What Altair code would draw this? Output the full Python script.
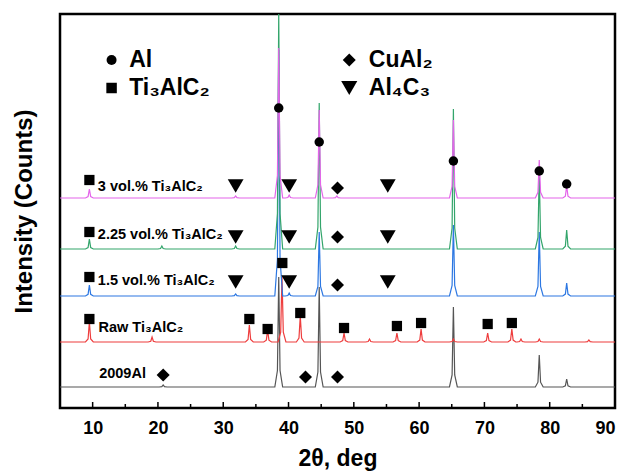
import altair as alt
import pandas as pd

# ---------------- data ----------------
X_DOMAIN = [5, 90]
Y_DOMAIN = [0, 394]
major_ticks = [10, 20, 30, 40, 50, 60, 70, 80, 90]
minor_ticks = [15, 25, 35, 45, 55, 65, 75, 85]

# drawing order: bottom trace first
samples = ["2009Al", "Raw Ti₃AlC₂", "1.5 vol.% Ti₃AlC₂", "2.25 vol.% Ti₃AlC₂", "3 vol.% Ti₃AlC₂"]
colors = ["#555555", "#ee3d3d", "#2c77e2", "#33a56b", "#e464ea"]
baselines = [21, 66, 112, 159, 210]

grey_pos = [20.8, 38.5, 44.7, 65.25, 78.4, 82.6]
grey_h = [2, 110, 100, 80, 32, 8]
red_pos = [9.5, 19.1, 34.0, 36.8, 39.0, 41.8, 48.5, 52.4, 56.6, 60.3, 65.25, 70.5, 74.2, 75.6, 78.4, 86.0]
red_h = [20, 5, 17, 12, 66, 26, 9, 3, 9, 13, 3, 9, 13, 3, 3, 2]
blue_pos = [9.5, 31.9, 38.5, 40.1, 44.7, 65.25, 78.4, 82.6]
blue_h = [11, 2, 246, 3, 64, 71, 64, 13]
green_pos = [9.5, 20.6, 31.9, 38.5, 44.7, 65.25, 78.4, 82.6]
green_h = [10, 3, 3, 236, 146, 140, 77, 19]
magenta_pos = [9.5, 31.9, 38.5, 40.1, 44.7, 47.4, 65.25, 78.4, 82.6]
magenta_h = [9, 2, 150, 3, 88, 2, 78, 38, 12]

peak_pos = [grey_pos, red_pos, blue_pos, green_pos, magenta_pos]
peak_h = [grey_h, red_h, blue_h, green_h, magenta_h]

# phase markers on the traces
al_t = [38.5, 44.7, 65.25, 78.4, 82.6]
al_I = [300, 266, 247, 237, 224]
ti_t = [9.5, 9.5, 9.5, 39.05, 9.5, 34.0, 36.8, 41.8, 48.5, 56.6, 60.3, 70.5, 74.2]
ti_I = [228, 176, 131, 145, 89, 89, 79, 95, 80, 82, 85, 84, 85]
cu_t = [47.5, 47.5, 47.5, 20.8, 42.6, 47.5]
cu_I = [220, 171, 123, 33, 31, 31]
c3_t = [31.9, 40.1, 55.2, 31.9, 40.1, 55.2, 31.9, 40.1, 55.2]
c3_I = [222, 222, 222, 171, 171, 171, 126, 126, 126]

# sample labels
label_t = [11.0, 10.9, 10.8, 10.8, 10.8]
label_I = [34, 80, 127, 173, 221]

# phase legend
leg_names = ["Al", "Ti₃AlC₂", "CuAl₂", "Al₄C₃"]
leg_shapes = ["circle", "square", "diamond", "triangle-down"]
leg_sym_t = [12.9, 12.9, 49.3, 49.3]
leg_txt_t = [15.6, 15.6, 52.3, 52.3]
leg_I = [348, 320, 348, 320]

# peak profile template (offset in deg, fraction of height)
PEAK_DX = [-0.6, -0.2, 0.0, 0.2, 0.6]
PEAK_F = [0.0, 0.15, 1.0, 0.15, 0.0]

W, H = 555, 394
FONT = "Liberation Sans"

xs = alt.Scale(domain=X_DOMAIN, nice=False, zero=False)
ys = alt.Scale(domain=Y_DOMAIN, nice=False, zero=False)

x_axis = alt.Axis(values=major_ticks, labelFontSize=18, labelFontWeight="bold", labelFont=FONT,
                  labelColor="black", tickSize=0, domain=False, grid=False, labelPadding=11,
                  title="2θ, deg", titleFontSize=23, titleFontWeight="bold", titleFont=FONT,
                  titleColor="black", titlePadding=10)
y_axis = alt.Axis(labels=False, ticks=False, domain=False, grid=False,
                  title="Intensity (Counts)", titleFontSize=24, titleFontWeight="bold",
                  titleFont=FONT, titleColor="black", titlePadding=24)

X = lambda: alt.X("t:Q", scale=xs, axis=x_axis)
Y = lambda: alt.Y("I:Q", scale=ys, axis=y_axis)


def trace_df(pos, h, base):
    tt, ii = [X_DOMAIN[0]], [base]
    for p, hh in sorted(zip(pos, h)):
        for dx, f in zip(PEAK_DX, PEAK_F):
            tt.append(p + dx)
            ii.append(base + f * hh)
    tt.append(X_DOMAIN[1])
    ii.append(base)
    return pd.DataFrame({"t": tt, "I": ii})


layers = []
for k in range(len(samples)):
    df = trace_df(peak_pos[k], peak_h[k], baselines[k])
    layers.append(
        alt.Chart(df).mark_line(color=colors[k], strokeWidth=1.2, clip=True).encode(x=X(), y=Y())
    )

# inward ticks
tick_df = pd.DataFrame({"t": major_ticks[:-1] + minor_ticks,
                        "len": [6] * (len(major_ticks) - 1) + [4] * len(minor_ticks)})
for length in (6, 4):
    layers.append(
        alt.Chart(tick_df[tick_df["len"] == length]).mark_rule(color="black", strokeWidth=1.5).encode(
            x=X(), y=alt.value(H), y2=alt.value(H - length),
        )
    )

# markers
mk = [("circle", al_t, al_I, 90), ("square", ti_t, ti_I, 105),
      ("diamond", cu_t, cu_I, 170), ("triangle-down", c3_t, c3_I, 250)]
for shape, tt, ii, size in mk:
    layers.append(
        alt.Chart(pd.DataFrame({"t": tt, "I": ii})).mark_point(
            shape=shape, filled=True, color="black", opacity=1, size=size).encode(x=X(), y=Y())
    )

# legend symbols
leg_sizes = [100, 110, 170, 260]
for name, shape, t, I, s in zip(leg_names, leg_shapes, leg_sym_t, leg_I, leg_sizes):
    layers.append(
        alt.Chart(pd.DataFrame({"t": [t], "I": [I]})).mark_point(
            shape=shape, filled=True, color="black", opacity=1, size=s).encode(x=X(), y=Y())
    )

layers.append(
    alt.Chart(pd.DataFrame({"t": leg_txt_t, "I": leg_I, "txt": leg_names})).mark_text(
        align="left", baseline="middle", font=FONT, fontSize=23, fontWeight="bold", color="black").encode(
        x=X(), y=Y(), text="txt:N")
)

layers.append(
    alt.Chart(pd.DataFrame({"t": label_t, "I": label_I, "txt": samples})).mark_text(
        align="left", baseline="middle", font=FONT, fontSize=14.5, fontWeight="bold", color="black").encode(
        x=X(), y=Y(), text="txt:N")
)

chart = alt.layer(*layers).properties(
    width=W, height=H,
    background="white",
    autosize=alt.AutoSizeParams(type="none"),
    padding={"left": 52, "top": 6, "right": 7, "bottom": 65},
).configure_view(stroke="black", strokeWidth=2.5)

chart.save("out.html", embed_options={"renderer": "svg", "actions": False})
